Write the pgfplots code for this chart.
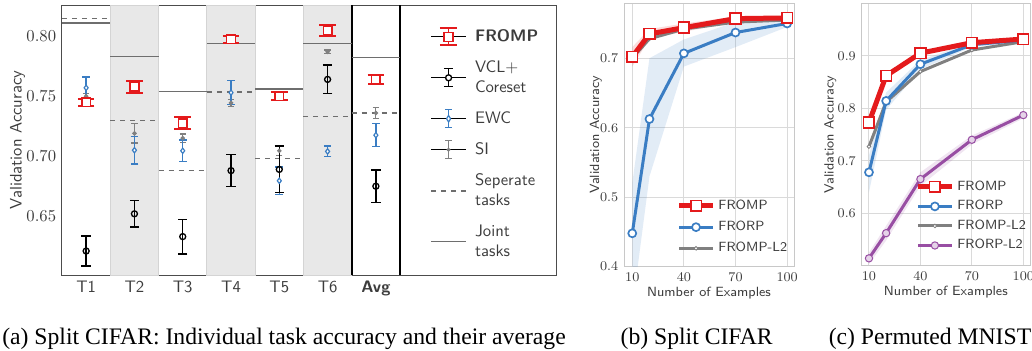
\documentclass[border=0pt]{standalone}
\usepackage{fontspec}
\usepackage{pgfplots}
\usepackage{pgfplotstable}
\pgfplotsset{compat=1.18}
\newfontfamily\capfont{Liberation Serif}
\definecolor{cred}{RGB}{228,26,28}
\definecolor{cblue}{RGB}{58,125,195}
\definecolor{cgray}{RGB}{128,128,128}
\definecolor{cpurple}{RGB}{152,78,163}
\definecolor{shade}{RGB}{232,232,232}
\definecolor{sepc}{RGB}{212,212,212}
\definecolor{hline}{RGB}{110,110,110}
\definecolor{gridc}{RGB}{218,218,218}
\definecolor{framec}{RGB}{200,200,200}
\definecolor{txt}{RGB}{60,60,60}

% Panel (a) data: x, mean, error
\pgfplotstableread{
x y e
1 0.745 0.003
2 0.758 0.005
3 0.7275 0.005
4 0.7975 0.003
5 0.750 0.0035
6 0.805 0.0045
7 0.764 0.004
}\fromp
\pgfplotstableread{
x y e
1 0.621 0.0125
2 0.652 0.011
3 0.633 0.0145
4 0.688 0.0135
5 0.689 0.0195
6 0.764 0.012
7 0.675 0.0135
}\vcl
\pgfplotstableread{
x y e
1 0.757 0.009
2 0.705 0.0115
3 0.7045 0.009
4 0.753 0.010
5 0.6795 0.0115
6 0.704 0.0045
7 0.7175 0.0095
}\ewc
\pgfplotstableread{
x y e
1 0.750 0.002
2 0.719 0.008
3 0.715 0.0035
4 0.7445 0.003
5 0.7045 0.004
6 0.787 0.0015
7 0.736 0.0045
}\si

\begin{document}
\begin{tikzpicture}
\path[use as bounding box] (0,0) rectangle (619.2pt,210pt);

%================ Panel (a)
\begin{axis}[
  at={(37.2pt,45pt)}, anchor=south west,
  scale only axis, width=296.4pt, height=162pt,
  xmin=0.5, xmax=10.73, ymin=0.601, ymax=0.826,
  xtick={1,2,3,4,5,6,7},
  xticklabels={T1,T2,T3,T4,T5,T6,\textbf{Avg}},
  ytick={0.65,0.70,0.75,0.80},
  yticklabel style={/pgf/number format/.cd, fixed, fixed zerofill, precision=2},
  major tick length=0pt,
  axis line style={draw=black!70, line width=0.6pt},
  tick label style={text=txt},
  xticklabel style={font=\sffamily},
  ylabel={\sffamily Validation Accuracy},
  ylabel style={text=txt},
  ylabel shift=-6pt,
  unbounded coords=jump,
  legend style={at={(0.735,0.935)}, anchor=north west, draw=none, fill=none,
     font=\sffamily, text=txt, cells={anchor=west, align=left}, row sep=6pt,
     /tikz/every odd column/.append style={column sep=3pt}},
]
% shaded task columns
\addplot[fill=shade, draw=sepc, line width=0.6pt, forget plot] coordinates {(1.5,0.601)(2.5,0.601)(2.5,0.826)(1.5,0.826)} -- cycle;
\addplot[fill=shade, draw=sepc, line width=0.6pt, forget plot] coordinates {(3.5,0.601)(4.5,0.601)(4.5,0.826)(3.5,0.826)} -- cycle;
\addplot[fill=shade, draw=sepc, line width=0.6pt, forget plot] coordinates {(5.5,0.601)(6.5,0.601)(6.5,0.826)(5.5,0.826)} -- cycle;
\addplot[black, line width=1.1pt, forget plot] coordinates {(6.5,0.601)(6.5,0.826)};
\addplot[black, line width=1.1pt, forget plot] coordinates {(7.5,0.601)(7.5,0.826)};
% joint tasks (solid)
\addplot[hline, line width=0.8pt, forget plot] coordinates {
 (0.5,0.811)(1.5,0.811)(1.5,nan)
 (1.5,0.783)(2.5,0.783)(2.5,nan)
 (2.5,0.754)(3.5,0.754)(3.5,nan)
 (3.5,0.794)(4.5,0.794)(4.5,nan)
 (4.5,0.756)(5.5,0.756)(5.5,nan)
 (5.5,0.794)(6.5,0.794)(6.5,nan)
 (6.5,0.782)(7.5,0.782)};
% separate tasks (dashed)
\addplot[hline, line width=0.8pt, dashed, forget plot] coordinates {
 (0.5,0.815)(1.5,0.815)(1.5,nan)
 (1.5,0.730)(2.5,0.730)(2.5,nan)
 (2.5,0.688)(3.5,0.688)(3.5,nan)
 (3.5,0.7535)(4.5,0.7535)(4.5,nan)
 (4.5,0.698)(5.5,0.698)(5.5,nan)
 (5.5,0.733)(6.5,0.733)(6.5,nan)
 (6.5,0.736)(7.5,0.736)};
% SI
\addplot[only marks, cgray, mark=*, mark size=1pt, line width=0.7pt, forget plot,
  error bars/.cd, y dir=both, y explicit,
  error bar style={cgray, line width=0.7pt},
  error mark options={rotate=90, cgray, line width=0.8pt, mark size=1.9pt}]
  table[x=x, y=y, y error=e] {\si};
% EWC
\addplot[only marks, cblue, mark=diamond*, mark size=1.6pt, mark options={fill=white}, line width=0.7pt, forget plot,
  error bars/.cd, y dir=both, y explicit,
  error bar style={cblue, line width=0.8pt},
  error mark options={rotate=90, cblue, line width=0.8pt, mark size=2.3pt}]
  table[x=x, y=y, y error=e] {\ewc};
% VCL + Coreset
\addplot[only marks, black, mark=o, mark size=1.8pt, mark options={fill=white}, line width=0.8pt, forget plot,
  error bars/.cd, y dir=both, y explicit,
  error bar style={black, line width=0.8pt},
  error mark options={rotate=90, black, line width=0.8pt, mark size=2.8pt}]
  table[x=x, y=y, y error=e] {\vcl};
% FROMP
\addplot[only marks, cred, mark=square*, mark size=2.6pt, mark options={fill=white}, line width=0.9pt, forget plot,
  error bars/.cd, y dir=both, y explicit,
  error bar style={cred, line width=0.9pt},
  error mark options={rotate=90, cred, line width=1.2pt, mark size=5pt}]
  table[x=x, y=y, y error=e] {\fromp};

\addlegendimage{legend image code/.code={
  \path (0pt,0pt) -- (21pt,0pt);
  \draw[cred,line width=0.9pt] (10.5pt,-5.2pt)--(10.5pt,5.2pt);
  \draw[cred,line width=1.2pt] (5.3pt,-5.2pt)--(15.7pt,-5.2pt) (5.3pt,5.2pt)--(15.7pt,5.2pt);
  \draw[cred,line width=0.9pt,fill=white] (7.8pt,-2.7pt) rectangle (13.2pt,2.7pt);}}
\addlegendentry{\textbf{FROMP}}
\addlegendimage{legend image code/.code={
  \path (0pt,0pt) -- (21pt,0pt);
  \draw[black,line width=0.8pt] (10.5pt,-5.4pt)--(10.5pt,5.4pt);
  \draw[black,line width=0.8pt] (7.7pt,-5.4pt)--(13.3pt,-5.4pt) (7.7pt,5.4pt)--(13.3pt,5.4pt);
  \draw[black,line width=0.8pt,fill=white] (10.5pt,0pt) circle (1.8pt);}}
\addlegendentry{VCL+\\Coreset}
\addlegendimage{legend image code/.code={
  \path (0pt,0pt) -- (21pt,0pt);
  \draw[cblue,line width=0.8pt] (10.5pt,-5.4pt)--(10.5pt,5.4pt);
  \draw[cblue,line width=0.8pt] (8.2pt,-5.4pt)--(12.8pt,-5.4pt) (8.2pt,5.4pt)--(12.8pt,5.4pt);
  \draw[cblue,line width=0.7pt,fill=white] (10.5pt,-2pt)--(11.7pt,0pt)--(10.5pt,2pt)--(9.3pt,0pt)--cycle;}}
\addlegendentry{EWC}
\addlegendimage{legend image code/.code={
  \path (0pt,0pt) -- (21pt,0pt);
  \draw[cgray,line width=0.7pt] (10.5pt,-5.4pt)--(10.5pt,5.4pt);
  \draw[cgray,line width=0.8pt] (8.6pt,-5.4pt)--(12.4pt,-5.4pt) (8.6pt,5.4pt)--(12.4pt,5.4pt);
  \fill[cgray] (10.5pt,0pt) circle (1pt);}}
\addlegendentry{SI}
\addlegendimage{legend image code/.code={
  \draw[hline,line width=0.8pt,dashed] (0pt,0pt)--(21pt,0pt);}}
\addlegendentry{Seperate\\tasks}
\addlegendimage{legend image code/.code={
  \draw[hline,line width=0.8pt] (0pt,0pt)--(21pt,0pt);}}
\addlegendentry{Joint\\tasks}
\end{axis}

%================ Panel (b)
\begin{axis}[
  at={(374.4pt,50pt)}, anchor=south west,
  scale only axis, width=102pt, height=158pt,
  xmin=5.2, xmax=104, ymin=0.4, ymax=0.779,
  xtick={10,40,70,100}, ytick={0.4,0.5,0.6,0.7},
  yticklabel style={/pgf/number format/.cd, fixed, fixed zerofill, precision=1},
  grid=major, grid style={gridc, line width=0.6pt},
  axis line style={framec, line width=0.6pt},
  major tick length=0pt,
  tick label style={text=txt, font=\fontsize{8}{9.5}\selectfont},
  xlabel={\sffamily Number of Examples}, ylabel={\sffamily Validation Accuracy},
  label style={text=txt, font=\fontsize{8}{9.5}\selectfont},
  ylabel shift=-8pt, xlabel shift=-3pt,
  legend style={at={(0.28,0.28)}, anchor=north west, draw=none, fill=none,
     font=\sffamily\fontsize{8}{9.5}\selectfont, text=txt, cells={anchor=west}, row sep=1.5pt,
     legend image code/.code={\draw[mark repeat=2,mark phase=2,#1] plot coordinates {(0cm,0cm)(0.35cm,0cm)(0.7cm,0cm)};}},
]
\addplot[fill=cblue, fill opacity=0.15, draw=none, forget plot] coordinates {
 (10,0.52)(20,0.70)(40,0.727)(70,0.752)(100,0.756)
 (100,0.745)(70,0.716)(40,0.688)(20,0.53)(10,0.34)} -- cycle;
\addplot[fill=cred, fill opacity=0.15, draw=none, forget plot] coordinates {
 (10,0.716)(20,0.742)(40,0.750)(70,0.760)(100,0.761)
 (100,0.754)(70,0.752)(40,0.738)(20,0.728)(10,0.688)} -- cycle;
\addplot[cgray, line width=1.8pt, mark=*, mark size=1.1pt, mark options={fill=white, line width=0.5pt}, forget plot]
 coordinates {(10,0.700)(20,0.728)(40,0.742)(70,0.752)(100,0.755)};
\addplot[cblue, line width=1.8pt, mark=*, mark size=2.4pt, mark options={fill=white, line width=1pt}, forget plot]
 coordinates {(10,0.448)(20,0.6125)(40,0.707)(70,0.737)(100,0.750)};
\addplot[cred, line width=3pt, mark=square*, mark size=3.2pt, mark options={fill=white, line width=1pt}, forget plot]
 coordinates {(10,0.702)(20,0.735)(40,0.744)(70,0.757)(100,0.758)};
\addlegendimage{cred, line width=3pt, mark=square*, mark size=3.2pt, mark options={fill=white, line width=1pt}}
\addlegendentry{FROMP}
\addlegendimage{cblue, line width=1.8pt, mark=*, mark size=2.4pt, mark options={fill=white, line width=1pt}}
\addlegendentry{FRORP}
\addlegendimage{cgray, line width=1.8pt, mark=*, mark size=1.1pt, mark options={fill=white, line width=0.5pt}}
\addlegendentry{FROMP-L2}
\end{axis}

%================ Panel (c)
\begin{axis}[
  at={(517pt,50.6pt)}, anchor=south west,
  scale only axis, width=101pt, height=157.4pt,
  xmin=5.74, xmax=103.9, ymin=0.5, ymax=1.0,
  xtick={10,40,70,100}, ytick={0.6,0.7,0.8,0.9},
  yticklabel style={/pgf/number format/.cd, fixed, fixed zerofill, precision=1},
  grid=major, grid style={gridc, line width=0.6pt},
  axis line style={framec, line width=0.6pt},
  major tick length=0pt,
  tick label style={text=txt, font=\fontsize{8}{9.5}\selectfont},
  xlabel={\sffamily Number of Examples}, ylabel={\sffamily Validation Accuracy},
  label style={text=txt, font=\fontsize{8}{9.5}\selectfont},
  ylabel shift=-6pt, xlabel shift=-3pt,
  legend style={at={(0.29,0.35)}, anchor=north west, draw=none, fill=none,
     font=\sffamily\fontsize{8}{9.5}\selectfont, text=txt, cells={anchor=west}, row sep=0.5pt,
     legend image code/.code={\draw[mark repeat=2,mark phase=2,#1] plot coordinates {(0cm,0cm)(0.35cm,0cm)(0.7cm,0cm)};}},
]
\addplot[fill=cblue, fill opacity=0.15, draw=none, forget plot] coordinates {
 (10,0.71)(20,0.83)(40,0.892)(70,0.925)(100,0.933)
 (100,0.927)(70,0.917)(40,0.874)(20,0.797)(10,0.64)} -- cycle;
\addplot[fill=cpurple, fill opacity=0.15, draw=none, forget plot] coordinates {
 (10,0.525)(20,0.576)(40,0.678)(70,0.748)(100,0.792)
 (100,0.781)(70,0.731)(40,0.652)(20,0.548)(10,0.503)} -- cycle;
\addplot[cpurple, line width=1.8pt, mark=*, mark size=2.2pt, mark options={fill=cpurple!25, line width=0.6pt}, forget plot]
 coordinates {(10,0.514)(20,0.562)(40,0.665)(70,0.740)(100,0.787)};
\addplot[cgray, line width=1.8pt, mark=*, mark size=1.1pt, mark options={fill=white, line width=0.5pt}, forget plot]
 coordinates {(10,0.727)(20,0.812)(40,0.870)(70,0.911)(100,0.927)};
\addplot[cblue, line width=1.8pt, mark=*, mark size=2.4pt, mark options={fill=white, line width=1pt}, forget plot]
 coordinates {(10,0.678)(20,0.814)(40,0.884)(70,0.921)(100,0.930)};
\addplot[cred, line width=3pt, mark=square*, mark size=3.2pt, mark options={fill=white, line width=1pt}, forget plot]
 coordinates {(10,0.773)(20,0.862)(40,0.905)(70,0.925)(100,0.932)};
\addlegendimage{cred, line width=3pt, mark=square*, mark size=3.2pt, mark options={fill=white, line width=1pt}}
\addlegendentry{FROMP}
\addlegendimage{cblue, line width=1.8pt, mark=*, mark size=2.4pt, mark options={fill=white, line width=1pt}}
\addlegendentry{FRORP}
\addlegendimage{cgray, line width=1.8pt, mark=*, mark size=1.1pt, mark options={fill=white, line width=0.5pt}}
\addlegendentry{FROMP-L2}
\addlegendimage{cpurple, line width=1.8pt, mark=*, mark size=2.2pt, mark options={fill=cpurple!25, line width=0.6pt}}
\addlegendentry{FRORP-L2}
\end{axis}

%================ Captions
\node[anchor=base, font=\capfont\fontsize{14.2}{16}\selectfont] at (170.4pt,3.6pt) {(a) Split CIFAR: Individual task accuracy and their average};
\node[anchor=base, font=\capfont\fontsize{14.2}{16}\selectfont] at (418pt,3.6pt) {(b) Split CIFAR};
\node[anchor=base, font=\capfont\fontsize{14.2}{16}\selectfont] at (558pt,3.6pt) {(c) Permuted MNIST};
\end{tikzpicture}
\end{document}
